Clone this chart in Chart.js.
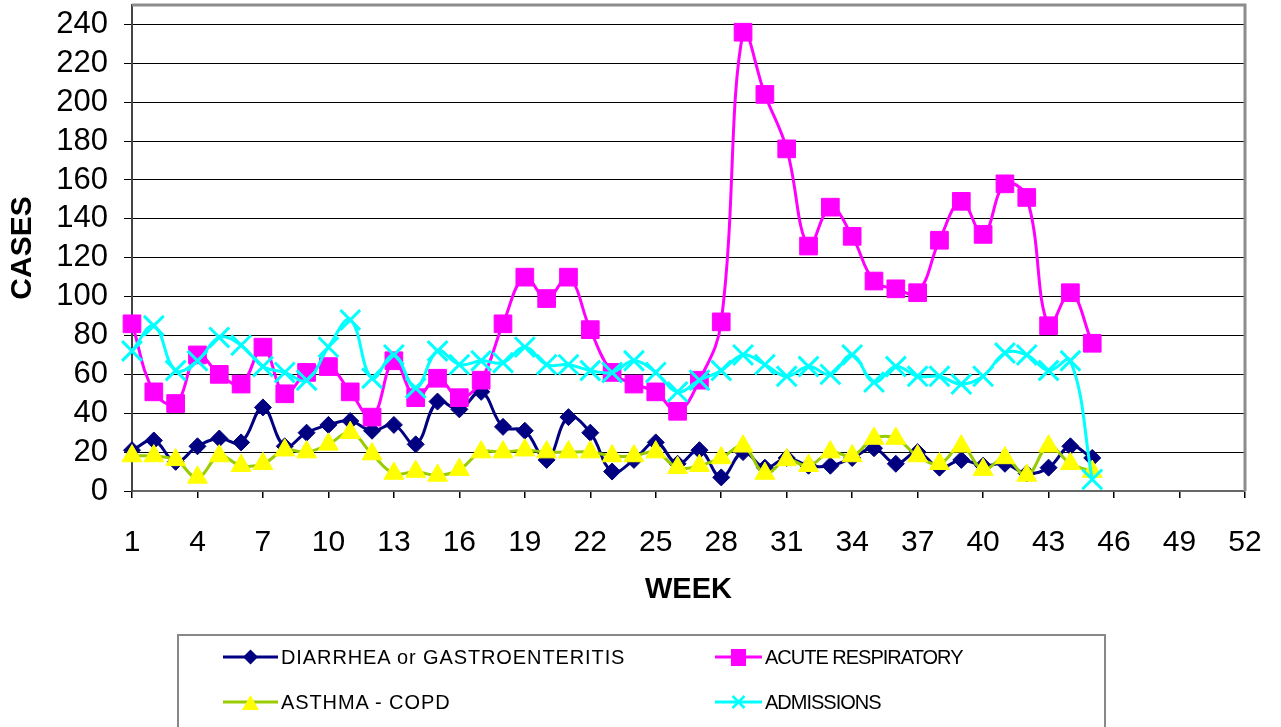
<!DOCTYPE html>
<html><head><meta charset="utf-8">
<script src="https://cdn.jsdelivr.net/npm/chart.js@4.4.0/dist/chart.umd.min.js"></script>
<style>
html,body{margin:0;padding:0;background:#fff;overflow:hidden;}
#wrap{position:relative;width:1281px;height:727px;overflow:hidden;}
#c{position:absolute;left:0;top:0;}
#legend{position:absolute;left:177px;top:634px;width:929px;height:120px;border:2px solid #888;box-sizing:border-box;}
.sym{position:absolute;}
.txt{position:absolute;font-family:"Liberation Sans",Arial,sans-serif;font-size:20px;color:#000;line-height:20px;white-space:nowrap;}
</style></head>
<body><div id="wrap"><canvas id="c" width="1281" height="727"></canvas><div id="legend"></div></div>
<script>
const weeks = ['1','2','3','4','5','6','7','8','9','10','11','12','13','14','15','16','17','18','19','20','21','22','23','24','25','26','27','28','29','30','31','32','33','34','35','36','37','38','39','40','41','42','43','44','45','46','47','48','49','50','51','52'];
const seriesNames = ['DIARRHEA or GASTROENTERITIS','ACUTE RESPIRATORY','ASTHMA - COPD','ADMISSIONS'];
const diarrhea = [21,26,15,23,27,25,43,23,30,34,36,31,34,24,46,42,51,33,31,16,38,30,10,16,25,14,21,7,20,12,17,13,13,17,22,14,20,12,16,13,14,9,12,23,17];
const acuteResp = [86,51,45,70,60,55,74,50,61,64,51,38,67,48,58,48,57,86,110,99,110,83,61,55,51,41,57,87,236,204,176,126,146,131,108,104,102,129,149,132,158,151,85,102,76];
const asthma = [18,18,16,7,18,13,14,21,20,24,30,19,9,10,8,11,20,20,21,20,20,20,18,18,20,12,13,17,23,9,16,13,20,18,27,27,18,14,23,11,17,8,23,14,10];
const admissions = [72,85,62,67,79,75,64,61,57,74,88,58,70,53,72,65,67,66,74,65,65,62,61,67,61,51,57,62,70,65,59,64,60,70,56,64,59,59,55,59,71,70,62,67,6];
const yTickValues = [0,20,40,60,80,100,120,140,160,180,200,220,240];

const FAM = '"Liberation Sans", Arial, sans-serif';

const frame = {
  id:'frame',
  afterDraw(chart){
    const {ctx, chartArea:a} = chart;
    ctx.save();
    ctx.strokeStyle = '#8c8c8c';
    ctx.lineWidth = 3;
    ctx.beginPath();
    ctx.moveTo(a.left, a.top);
    ctx.lineTo(a.right, a.top);
    ctx.lineTo(a.right, a.bottom);
    ctx.stroke();
    ctx.restore();
  }
};

new Chart(document.getElementById('c'), {
  type:'line',
  data:{
    labels: weeks,
    datasets:[
      {label:seriesNames[0], data:diarrhea, borderColor:'#000080', backgroundColor:'#000080', pointBorderColor:'#000080',
       pointStyle:'rectRot', pointRadius:8.5, pointBorderWidth:1, borderWidth:3, order:4, clip:false},
      {label:seriesNames[1], data:acuteResp, borderColor:'#ff00ff', backgroundColor:'#ff00ff', pointBorderColor:'#ff00ff',
       pointStyle:'rect', pointRadius:12.5, pointBorderWidth:1, borderWidth:3, order:3, clip:false},
      {label:seriesNames[2], data:asthma, borderColor:'#99cc00', backgroundColor:'#ffff00', pointBorderColor:'#ffff00',
       pointStyle:'triangle', pointRadius:11.5, pointBorderWidth:1, borderWidth:3, order:2, clip:false},
      {label:seriesNames[3], data:admissions, borderColor:'#00ffff', backgroundColor:'#00ffff', pointBorderColor:'#00ffff',
       pointStyle:'crossRot', pointRadius:14, pointBorderWidth:3, borderWidth:3, order:1, clip:false}
    ]
  },
  options:{
    responsive:false, animation:false,
    layout:{autoPadding:false, padding:{top:5,right:36,left:0,bottom:0}},
    plugins:{legend:{display:false}, tooltip:{enabled:false}},
    elements:{line:{tension:0.4, capBezierPoints:true}},
    scales:{
      x:{
        grid:{drawOnChartArea:false, drawTicks:true, tickLength:7, lineWidth:1.5,
              color:(c)=> (c.index % 3 === 0 ? '#000' : 'rgba(0,0,0,0)')},
        border:{color:'#666', width:2},
        ticks:{autoSkip:false, maxRotation:0, minRotation:0, padding:27, color:'#000',
               font:{family:FAM, size:30},
               callback:(v,i)=> (i % 3 === 0 ? weeks[i] : '')},
        title:{display:true, text:'WEEK', color:'#000', font:{family:FAM, size:29, weight:'bold'}, padding:{top:0,bottom:120}},
        afterFit:(s)=>{ s.height = 236; s.paddingLeft = 0; s.paddingRight = 0; }
      },
      y:{
        min:0, max:250,
        grid:{color:'#000', lineWidth:1, tickLength:8},
        border:{color:'#444', width:2},
        ticks:{stepSize:20, autoSkip:false, padding:16, color:'#000', font:{family:FAM, size:31}},
        afterBuildTicks:(s)=>{ s.ticks = yTickValues.map(v=>({value:v})); },
        title:{display:true, text:'CASES', color:'#000', font:{family:FAM, size:30, weight:'bold'}, padding:{top:5,bottom:0}},
        afterFit:(s)=>{ s.width = 132; s.paddingTop = 0; s.paddingBottom = 0; }
      }
    }
  },
  plugins:[frame]
});

// legend
const legend = document.getElementById('legend');
const items = [
  {name:seriesNames[0], line:'#000080', x:223-179, y:657-636, w:55, mk:'diamond', mc:'#000080', ls:0.9},
  {name:seriesNames[1], line:'#ff00ff', x:715-179, y:657-636, w:47, mk:'square', mc:'#ff00ff', ls:-1},
  {name:seriesNames[2], line:'#99cc00', x:223-179, y:702-636, w:55, mk:'triangle', mc:'#ffff00', ls:0.9},
  {name:seriesNames[3], line:'#00ffff', x:715-179, y:702-636, w:47, mk:'x', mc:'#00ffff', ls:-1}
];
items.forEach(it=>{
  const h = 24;
  const cx = it.w/2, cy = h/2;
  let m = '';
  if (it.mk==='diamond') m = `<polygon points="${cx-7.5},${cy} ${cx},${cy-7.5} ${cx+7.5},${cy} ${cx},${cy+7.5}" fill="${it.mc}"/>`;
  if (it.mk==='square') m = `<rect x="${cx-7.5}" y="${cy-8}" width="15" height="17" fill="${it.mc}"/>`;
  if (it.mk==='triangle') m = `<polygon points="${cx},${cy-7} ${cx+8.5},${cy+8} ${cx-8.5},${cy+8}" fill="${it.mc}"/>`;
  if (it.mk==='x') m = `<path d="M${cx-6},${cy-6} L${cx+6},${cy+6} M${cx+6},${cy-6} L${cx-6},${cy+6}" stroke="${it.mc}" stroke-width="2.5"/>`;
  const svg = `<svg class="sym" style="left:${it.x}px;top:${it.y-h/2}px" width="${it.w}" height="${h}"><line x1="0" y1="${cy}" x2="${it.w}" y2="${cy}" stroke="${it.line}" stroke-width="3"/>${m}</svg>`;
  legend.insertAdjacentHTML('beforeend', svg + `<div class="txt" style="left:${it.x+it.w+3}px;top:${it.y-10}px;letter-spacing:${it.ls}px">${it.name}</div>`);
});
</script>
</body></html>
